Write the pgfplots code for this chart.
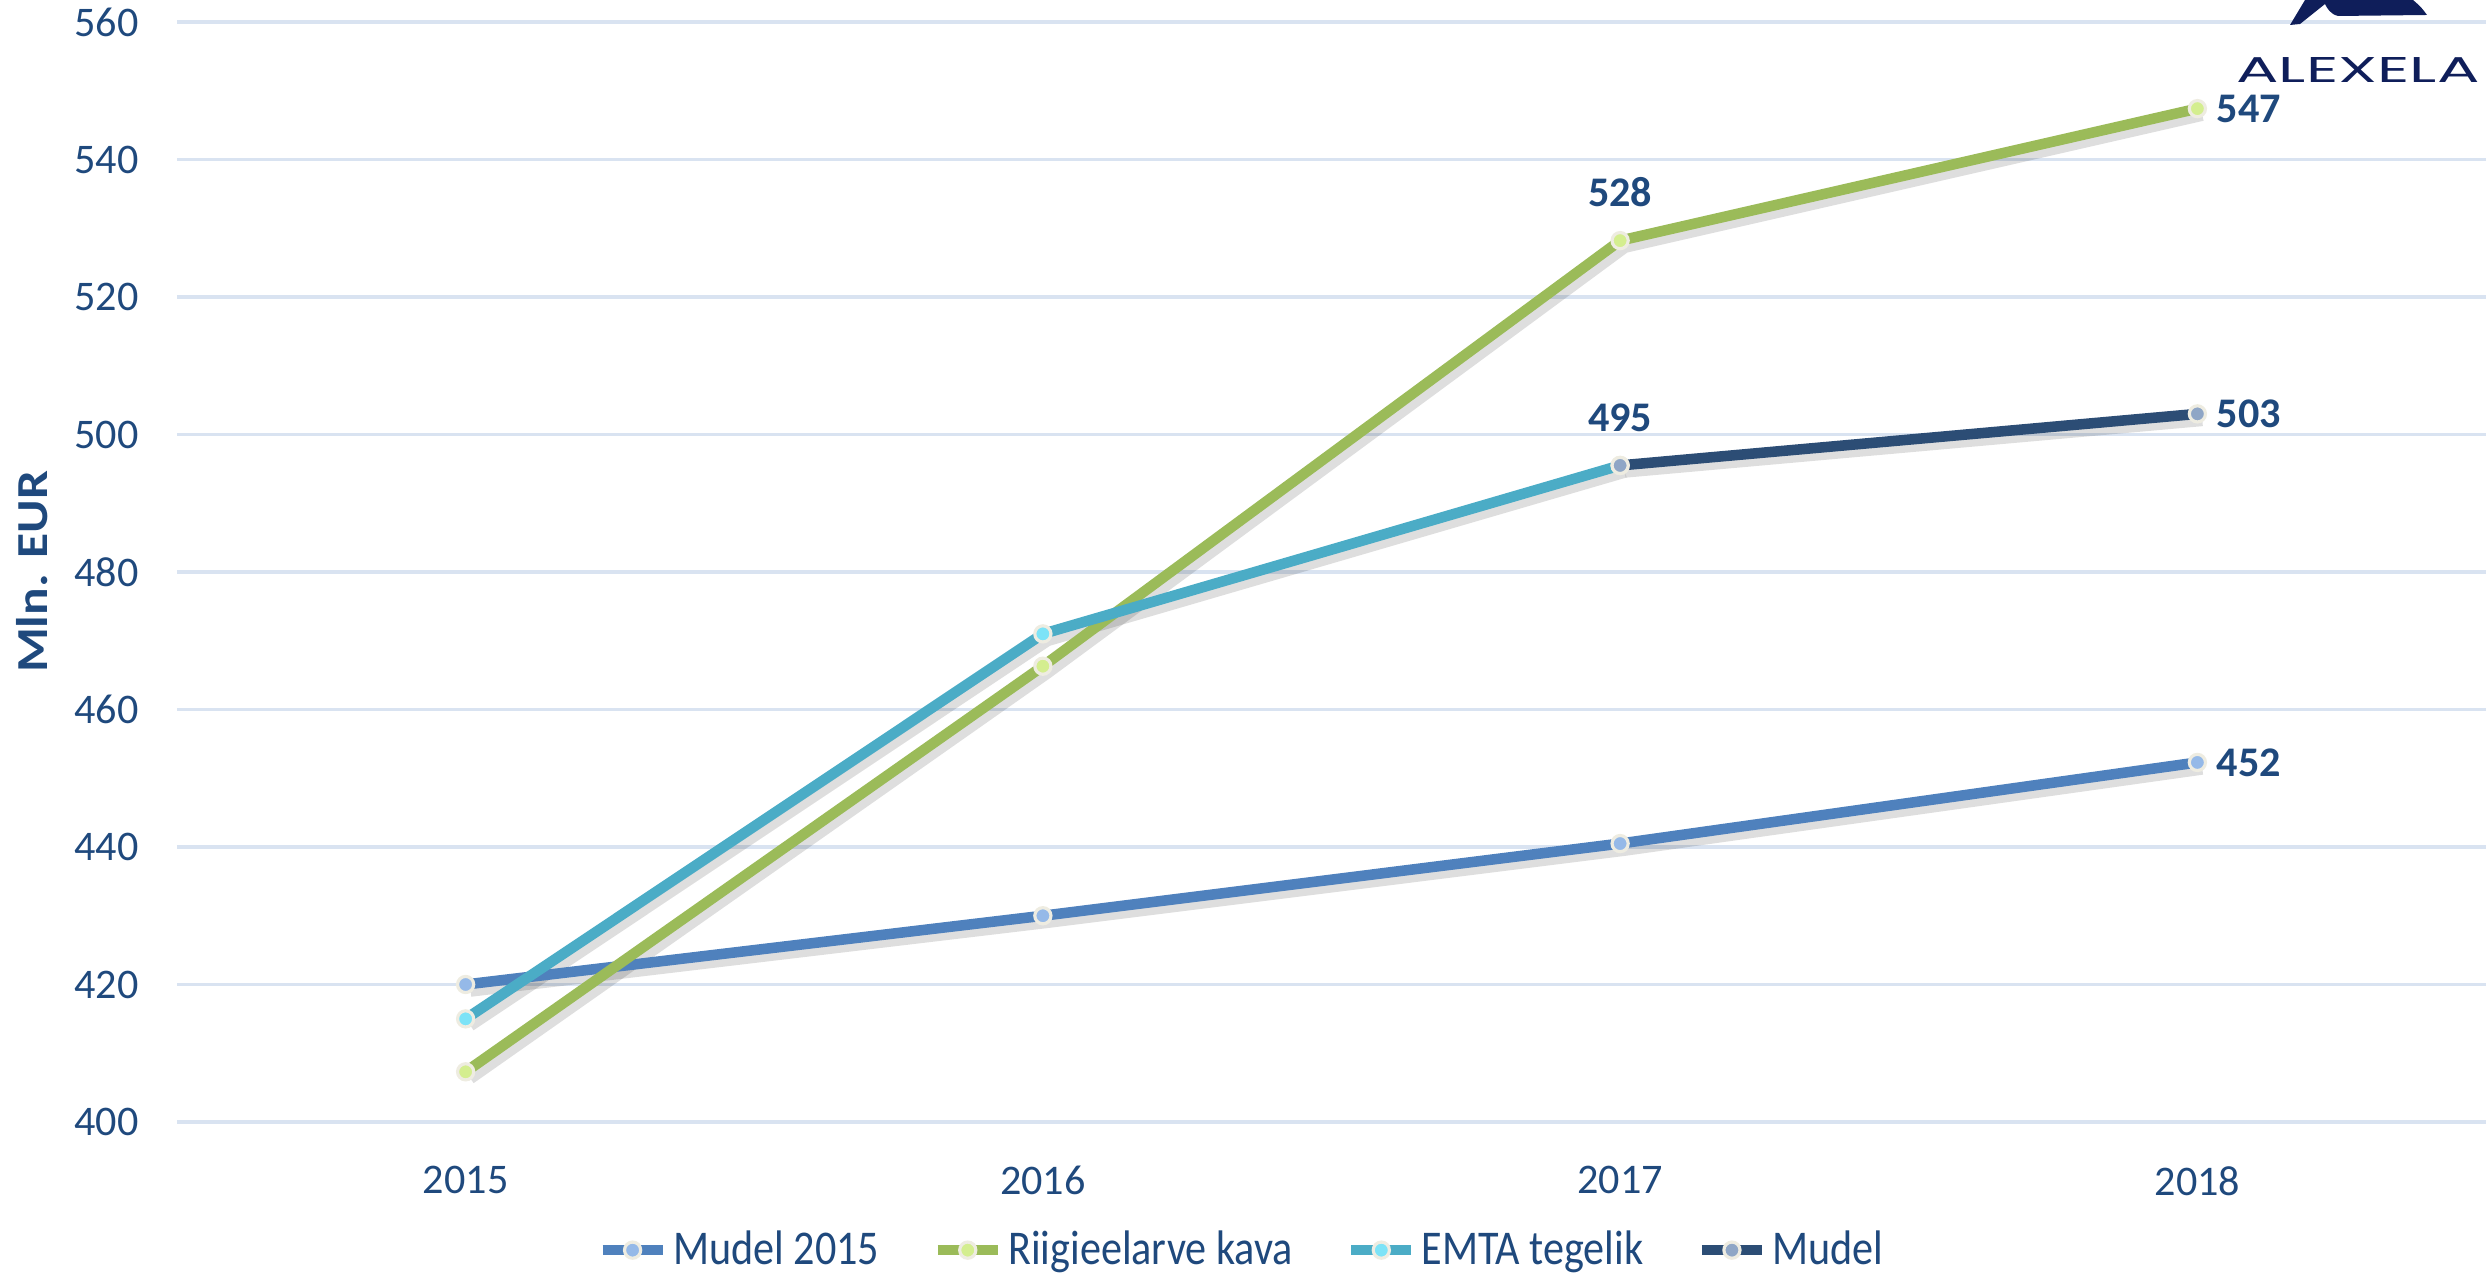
\documentclass[border=0pt]{standalone}
\usepackage{pgfplots}
\pgfplotsset{compat=1.18}
\usepackage{pgfplotstable}
\usepackage{fontspec}
\setmainfont{Carlito}
\newfontfamily\logofont{Poppins}
\usepackage{graphicx}

\definecolor{txtblue}{HTML}{1F497D}
\definecolor{cMudelA}{HTML}{4F81BD}
\definecolor{cRiigi}{HTML}{9BBB59}
\definecolor{cEMTA}{HTML}{4BACC6}
\definecolor{cMudel}{HTML}{2C4D75}
\definecolor{fMudelA}{HTML}{95B9E8}
\definecolor{fRiigi}{HTML}{D4EE8F}
\definecolor{fEMTA}{HTML}{7DE3F7}
\definecolor{fMudel}{HTML}{8FA6C6}
\definecolor{gridc}{HTML}{D9E3F1}
\definecolor{mkedge}{HTML}{EEECE1}
\definecolor{logoc}{HTML}{0F1E5A}

\pgfplotstableread{
x y
0 420
1 430
2 440.5
3 452.3
}\tMudelA
\pgfplotstableread{
x y
0 407.3
1 466.3
2 528.2
3 547.4
}\tRiigi
\pgfplotstableread{
x y
0 415
1 471
2 495.5
}\tEMTA
\pgfplotstableread{
x y
2 495.5
3 503
}\tMudel

\newcommand{\legtxt}[1]{\scalebox{1}[1.15]{#1}}

\begin{document}
\begin{tikzpicture}
\useasboundingbox (-1.77,-1.57) rectangle (23.09,11.22);
\begin{axis}[
  at={(0,0)}, anchor=south west,
  width=23.09cm, height=11cm, scale only axis,
  xmin=-0.5, xmax=3.5, ymin=400, ymax=560,
  xtick={0,1,2,3}, xticklabels={2015,2016,2017,2018},
  ytick={400,420,...,560},
  ymajorgrids, grid style={gridc, line width=0.9pt},
  axis line style={draw=none}, tick style={draw=none},
  /pgf/number format/assume math mode=true,
  ticklabel style={font=\fontsize{12}{14}\selectfont, text=txtblue},
  yticklabel style={xshift=-0.26cm},
  xticklabel style={yshift=-0.32cm},
  ylabel={\scalebox{1.16}[1]{Mln. EUR}},
  every axis y label/.style={at={(axis description cs:-0.0628,0.5)}, rotate=90, anchor=center,
     font=\bfseries\fontsize{12.6}{15}\selectfont, text=txtblue},
  legend columns=4,
  legend style={at={(axis description cs:0.4617,-0.1165)}, anchor=center, draw=none,
     font=\fontsize{12}{14}\selectfont, text=txtblue,
     nodes={inner xsep=1.5pt},
     /tikz/every even column/.append style={column sep=0.48cm},
     /tikz/every odd column/.append style={column sep=0cm}},
  clip=false,
]
% shadows
\addplot[black, opacity=0.13, line width=3pt, forget plot, xshift=0.05cm, yshift=-0.07cm] table {\tMudelA};
\addplot[black, opacity=0.13, line width=3pt, forget plot, xshift=0.05cm, yshift=-0.07cm] table {\tRiigi};
\addplot[black, opacity=0.13, line width=3pt, forget plot, xshift=0.05cm, yshift=-0.07cm] table {\tEMTA};
\addplot[black, opacity=0.13, line width=3pt, forget plot, xshift=0.05cm, yshift=-0.07cm] table {\tMudel};

\addplot[cMudelA, line width=3pt, mark=*, mark size=2.3pt, mark options={fill=fMudelA, draw=mkedge, line width=0.9pt}] table {\tMudelA};
\addlegendentry{\legtxt{Mudel 2015}}
\addplot[cRiigi, line width=3pt, mark=*, mark size=2.3pt, mark options={fill=fRiigi, draw=mkedge, line width=0.9pt}] table {\tRiigi};
\addlegendentry{\legtxt{Riigieelarve kava}}
\addplot[cEMTA, line width=3pt, mark=*, mark size=2.3pt, mark options={fill=fEMTA, draw=mkedge, line width=0.9pt}] table {\tEMTA};
\addlegendentry{\legtxt{EMTA tegelik}}
\addplot[cMudel, line width=3pt, mark=*, mark size=2.3pt, mark options={fill=fMudel, draw=mkedge, line width=0.9pt}] table {\tMudel};
\addlegendentry{\legtxt{Mudel}}

% value labels
\addplot[draw=none, mark=none, forget plot, nodes near coords, point meta=explicit symbolic,
  every node near coord/.style={anchor=west, xshift=0.07cm, font=\bfseries\fontsize{12}{14}\selectfont, text=txtblue}]
  coordinates {(3,547.4) [547] (3,503) [503] (3,452.3) [452]};
\addplot[draw=none, mark=none, forget plot, nodes near coords, point meta=explicit symbolic,
  every node near coord/.style={anchor=south, yshift=0.21cm, font=\bfseries\fontsize{12}{14}\selectfont, text=txtblue}]
  coordinates {(2,528.2) [528] (2,495.5) [495]};
\end{axis}
% logo
\fill[logoc] (21.13,10.97) -- (21.28,11.22) -- (22.36,11.22) .. controls (22.44,11.15) .. (22.50,11.07)
   -- (21.61,11.06) .. controls (21.53,11.08) and (21.50,11.14) .. (21.48,11.18) -- (21.23,10.98) -- cycle;
\node[inner sep=0, text=logoc] at (21.81,10.52) {\resizebox{2.43cm}{0.25cm}{\logofont ALEXELA}};
\end{tikzpicture}
\end{document}
